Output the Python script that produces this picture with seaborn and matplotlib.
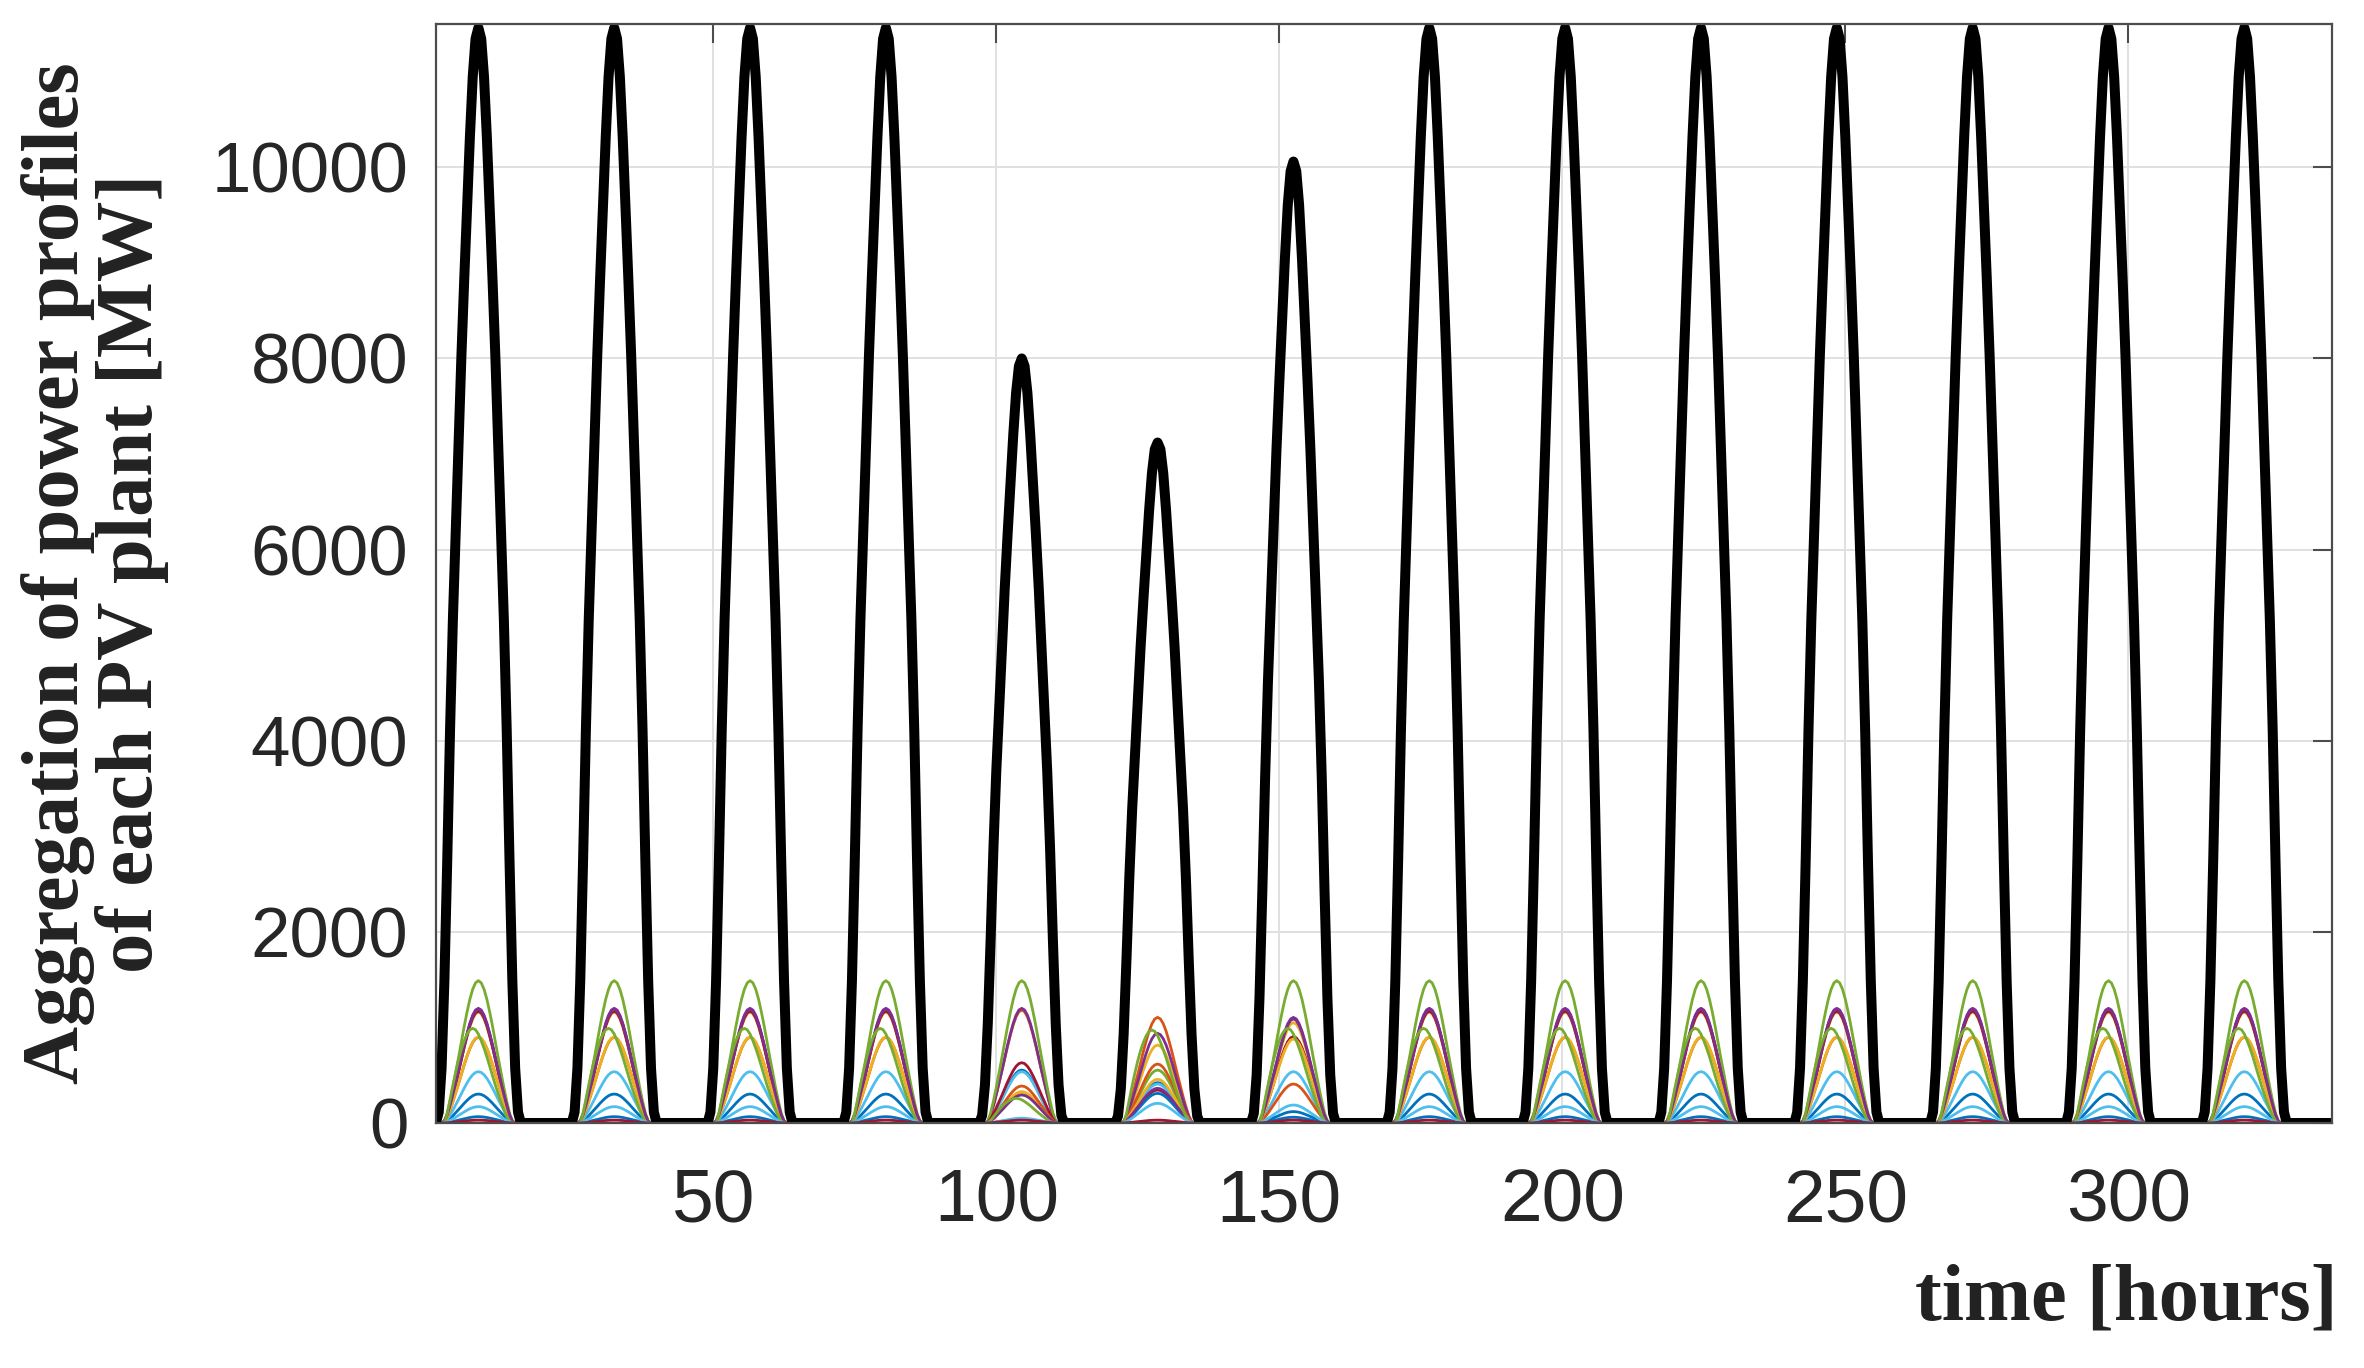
#!/usr/bin/env python3
import matplotlib
matplotlib.use('Agg')
import matplotlib.pyplot as plt
import seaborn as sns
import numpy as np
import pandas as pd

sns.set_style('white')

# one day sampled every half hour (t = 1.0, 1.5, ... 24.5), normalised to the daily peak
agg_shape   = [0, 0.01, 0.05, 0.13, 0.24, 0.36, 0.46, 0.54, 0.62, 0.70, 0.77, 0.835,
               0.90, 0.955, 0.99, 1.0, 0.99, 0.955, 0.90, 0.835, 0.77, 0.70, 0.62, 0.54,
               0.46, 0.36, 0.24, 0.13, 0.05, 0.01, 0, 0, 0, 0, 0, 0,
               0, 0, 0, 0, 0, 0, 0, 0, 0, 0, 0, 0]
plant_shape = [0, 0, 0, 0.015, 0.07, 0.155, 0.25, 0.355, 0.46, 0.57, 0.68, 0.78,
               0.87, 0.94, 0.985, 1.0, 0.985, 0.94, 0.87, 0.78, 0.68, 0.57, 0.46, 0.355,
               0.25, 0.155, 0.07, 0.015, 0, 0, 0, 0, 0, 0, 0, 0,
               0, 0, 0, 0, 0, 0, 0, 0, 0, 0, 0, 0]
early_shape = [0, 0, 0, 0, 0.1, 0.25, 0.4, 0.54, 0.67, 0.78, 0.87, 0.94,
               0.985, 1.0, 0.985, 0.94, 0.87, 0.79, 0.70, 0.60, 0.50, 0.40, 0.31, 0.22,
               0.14, 0.07, 0.02, 0, 0, 0, 0, 0, 0, 0, 0, 0,
               0, 0, 0, 0, 0, 0, 0, 0, 0, 0, 0, 0]

# daily peak of the aggregated profile [MW], 14 days
agg_peak = [11460, 11460, 11460, 11460, 8000, 7120, 10060,
            11460, 11460, 11460, 11460, 11460, 11460, 11460]

# peak of each PV plant [MW]: clear days, and the cloudy days 5, 6, 7
plant_clear = [303, 1182, 1160, 1200, 1489, 537, 1170, 66, 896, 900, 1190, 990, 171, 30]
plant_day5  = [554, 1182, 328, 1200, 1489, 537, 631, 40, 387, 300, 293, 258, 50, 30]
plant_day6  = [422, 1105, 816, 938, 554, 408, 345, 310, 617, 457, 363, 973, 206, 30]
plant_day7  = [119, 903, 1050, 1105, 1489, 537, 903, 60, 408, 880, 1090, 990, 188, 30]
early_plant = 11

matlab_colors = ['#0072BD', '#D95319', '#EDB120', '#7E2F8E', '#77AC30', '#4DBEEE', '#A2142F']

x_ticks = [50, 100, 150, 200, 250, 300]
y_ticks = [0, 2000, 4000, 6000, 8000, 10000]


def main():
    n_days = len(agg_peak)
    steps = len(agg_shape)
    hours = 1 + np.arange(n_days * steps) * 24 / steps
    cloudy = {4: plant_day5, 5: plant_day6, 6: plant_day7}

    agg = np.concatenate([np.array(agg_shape) * pk for pk in agg_peak])

    frames = []
    for p in range(len(plant_clear)):
        shape = np.array(early_shape if p == early_plant else plant_shape)
        vals = np.concatenate([shape * cloudy.get(d, plant_clear)[p] for d in range(n_days)])
        frames.append(pd.DataFrame({'hour': hours, 'power': vals, 'plant': p}))
    plants = pd.concat(frames)

    fig = plt.figure(figsize=(23.64, 13.68), dpi=100)
    ax = fig.add_axes([0.1844, 0.1791, 0.8021, 0.8034])

    sns.lineplot(data=plants, x='hour', y='power', hue='plant',
                 palette=matlab_colors * 2, lw=2.0, legend=False,
                 estimator=None, ax=ax)
    sns.lineplot(x=hours, y=agg, color='black', lw=7.2, ax=ax)

    ax.set_xlim(1, n_days * 24)
    ax.set_ylim(0, 11500)
    ax.set_xticks(x_ticks, [str(t) for t in x_ticks],
                  fontfamily='Liberation Sans', fontsize=54, color='#262626')
    ax.set_yticks(y_ticks, [str(t) for t in y_ticks],
                  fontfamily='Liberation Sans', fontsize=51, color='#262626')
    ax.tick_params(direction='in', length=14, width=1.5, color='#4d4d4d',
                   top=True, right=True)
    ax.tick_params(axis='x', pad=32)
    ax.tick_params(axis='y', pad=20)
    ax.grid(True, color='#e0e0e0', lw=1.4)
    for s in ax.spines.values():
        s.set_color('#4d4d4d')
        s.set_linewidth(1.6)

    ax.set_ylabel('Aggregation of power profiles\nof each PV plant [MW]',
                  fontfamily='Liberation Serif', fontweight='bold', fontsize=58,
                  linespacing=1.0, color='#222222')
    ax.yaxis.set_label_coords(-0.18, 0.5)
    ax.yaxis.label.set_va('center')

    ax.set_xlabel('time [hours]', fontfamily='Liberation Serif', fontweight='bold',
                  fontsize=58, color='#222222')
    ax.xaxis.set_label_coords(1.003, -0.161)
    ax.xaxis.label.set_ha('right')
    ax.xaxis.label.set_va('center')

    fig.savefig('out.png', dpi=100)


if __name__ == '__main__':
    main()
